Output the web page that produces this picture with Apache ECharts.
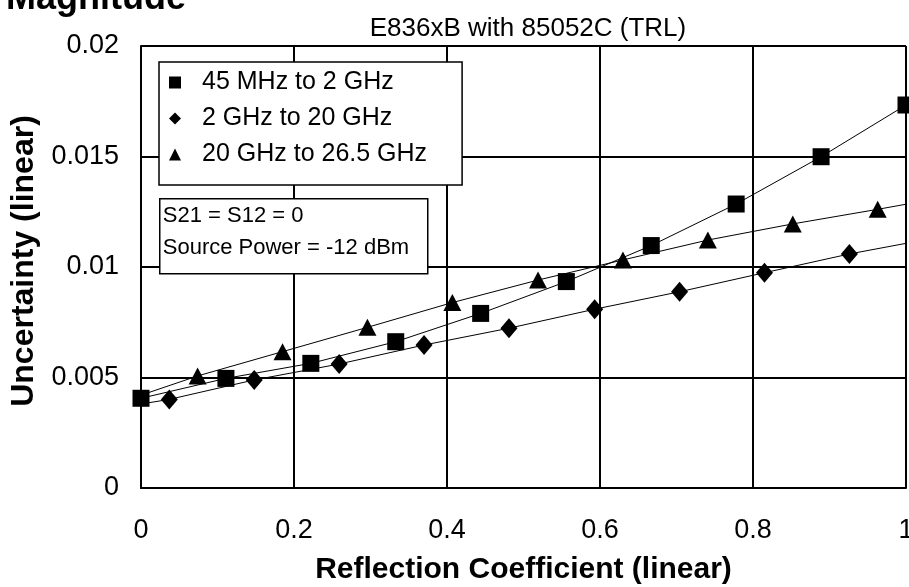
<!DOCTYPE html>
<html>
<head>
<meta charset="utf-8">
<script src="https://cdn.jsdelivr.net/npm/echarts@6/dist/echarts.min.js"></script>
<style>
html,body{margin:0;padding:0;background:#fff;}
#chart{width:909px;height:587px;}
</style>
</head>
<body>
<div id="chart"></div>
<script>
// ---- data ----
var seriesNames = ['45 MHz to 2 GHz', '2 GHz to 20 GHz', '20 GHz to 26.5 GHz'];

var squareX = [0, 0.111, 0.222, 0.333, 0.444, 0.556, 0.667, 0.778, 0.889, 1.0];
var squareY = [0.00406, 0.00496, 0.00564, 0.00662, 0.00790, 0.00934, 0.01097, 0.01285, 0.01499, 0.01733];

// first and last entries are line ends without markers
var diamondX = [0, 0.037, 0.148, 0.259, 0.370, 0.481, 0.593, 0.704, 0.815, 0.926, 1.0];
var diamondY = [0.0038, 0.00401, 0.00489, 0.00561, 0.00647, 0.00723, 0.00809, 0.00888, 0.00974, 0.01059, 0.01107];

var triangleX = [0, 0.074, 0.185, 0.296, 0.407, 0.519, 0.630, 0.741, 0.852, 0.963, 1.0];
var triangleY = [0.0042, 0.00507, 0.00617, 0.00727, 0.00839, 0.00941, 0.01032, 0.01122, 0.01195, 0.01261, 0.01284];

var yTickLabels = ['0', '0.005', '0.01', '0.015', '0.02'];
var xTickLabels = ['0', '0.2', '0.4', '0.6', '0.8', '1'];

var chartTitle = 'E836xB with 85052C (TRL)';
var topLabel = 'Magnitude';
var xName = 'Reflection Coefficient (linear)';
var yName = 'Uncertainty (linear)';
var noteLines = ['S21 = S12 = 0', 'Source Power = -12 dBm'];

// ---- build ----
function pairs(xs, ys, endsPlain) {
  return xs.map(function (x, i) {
    var item = { value: [x, ys[i]] };
    if (endsPlain && (i === 0 || i === xs.length - 1)) item.symbol = 'none';
    return item;
  });
}

var FONT = '"Liberation Sans", Arial, sans-serif';
var chart = echarts.init(document.getElementById('chart'), null, { renderer: 'canvas' });

var option = {
  backgroundColor: '#ffffff',
  animation: false,
  title: [
    {
      text: chartTitle, left: 528, top: 16, textAlign: 'center', padding: 0,
      textStyle: { fontFamily: FONT, fontSize: 26, fontWeight: 'normal', color: '#000' }
    },
    {
      text: topLabel, left: 6, top: -19, padding: 0,
      textStyle: { fontFamily: FONT, fontSize: 36, fontWeight: 'bold', color: '#000' }
    }
  ],
  grid: { left: 141, right: 3, top: 46, bottom: 99, containLabel: false, outerBoundsMode: 'none' },
  xAxis: {
    type: 'value', min: 0, max: 1, interval: 0.2,
    name: xName, nameLocation: 'middle', nameGap: 67,
    nameTextStyle: { fontFamily: FONT, fontSize: 30, fontWeight: 'bold', color: '#000' },
    axisLine: { show: true, lineStyle: { color: '#000', width: 2 } },
    axisTick: { show: false },
    splitLine: { show: true, lineStyle: { color: '#000', width: 2 } },
    axisLabel: {
      margin: 29, fontFamily: FONT, fontSize: 27, color: '#000',
      formatter: function (v) { return xTickLabels[Math.round(v / 0.2)]; }
    }
  },
  yAxis: {
    type: 'value', min: 0, max: 0.02, interval: 0.005,
    name: yName, nameLocation: 'middle', nameGap: 86, nameRotate: 90,
    nameTextStyle: { fontFamily: FONT, fontSize: 32, fontWeight: 'bold', color: '#000', padding: [0, 0, 0, 12] },
    axisLine: { show: true, lineStyle: { color: '#000', width: 2 } },
    axisTick: { show: false },
    splitLine: { show: true, lineStyle: { color: '#000', width: 2 } },
    axisLabel: {
      margin: 22, fontFamily: FONT, fontSize: 27, color: '#000',
      formatter: function (v) { return yTickLabels[Math.round(v / 0.005)]; }
    }
  },
  legend: {
    orient: 'vertical', left: 159, top: 62,
    padding: [8, 35, 18, 10],
    itemGap: 11, itemWidth: 12, itemHeight: 12,
    backgroundColor: '#fff', borderColor: '#000', borderWidth: 1.5,
    textStyle: { fontFamily: FONT, fontSize: 25, color: '#000', padding: [0, 0, 0, 16], lineHeight: 25 },
    data: [
      { name: seriesNames[0], icon: 'rect' },
      { name: seriesNames[1], icon: 'diamond' },
      { name: seriesNames[2], icon: 'triangle' }
    ],
    z: 10
  },
  graphic: [
    {
      type: 'group', left: 159, top: 198, z: 100,
      children: [
        { type: 'rect', z: 100, shape: { x: 0, y: 0, width: 268, height: 75 },
          style: { fill: '#fff', stroke: '#000', lineWidth: 1.5 } },
        { type: 'text', z: 101, x: 3, y: 17, style: { text: noteLines[0], font: '22px ' + FONT, fill: '#000', verticalAlign: 'middle' } },
        { type: 'text', z: 101, x: 3, y: 49, style: { text: noteLines[1], font: '22px ' + FONT, fill: '#000', verticalAlign: 'middle' } }
      ]
    }
  ],
  series: [
    {
      name: seriesNames[0], type: 'line', data: pairs(squareX, squareY, false),
      symbol: 'rect', symbolSize: 17, showAllSymbol: true, clip: true,
      lineStyle: { color: '#000', width: 1 }, itemStyle: { color: '#000' }, z: 3
    },
    {
      name: seriesNames[1], type: 'line', data: pairs(diamondX, diamondY, true),
      symbol: 'diamond', symbolSize: [17, 20], showAllSymbol: true, clip: true,
      lineStyle: { color: '#000', width: 1 }, itemStyle: { color: '#000' }, z: 3
    },
    {
      name: seriesNames[2], type: 'line', data: pairs(triangleX, triangleY, true),
      symbol: 'triangle', symbolSize: [18, 17], showAllSymbol: true, clip: true,
      lineStyle: { color: '#000', width: 1 }, itemStyle: { color: '#000' }, z: 3
    }
  ]
};
chart.setOption(option);
</script>
</body>
</html>
